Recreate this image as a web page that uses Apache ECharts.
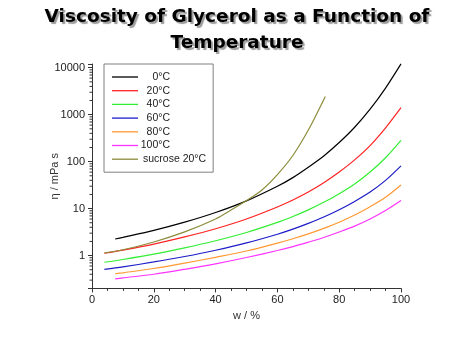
<!DOCTYPE html>
<html>
<head>
<meta charset="utf-8">
<script src="https://cdn.jsdelivr.net/npm/echarts@6/dist/echarts.min.js"></script>
<style>html,body{margin:0;padding:0;background:#fff}#c{width:474px;height:355px}</style>
</head>
<body>
<div id="c"></div>
<script>
// Glycerol mass fraction w / % for each curve
const wA = [4, 10, 20, 30, 40, 50, 60, 65, 70, 75, 80, 85, 90, 95, 100];
const wB = [7.5, 10, 20, 30, 40, 50, 60, 65, 70, 75, 80, 85, 90, 95, 100];
// viscosity / mPa s
const eta0   = [2.25, 2.44, 3.44, 5.14, 8.25, 14.6, 29.9, 45.7, 76, 132, 255, 540, 1310, 3690, 12070];
const eta20  = [1.12, 1.31, 1.76, 2.50, 3.72, 6.00, 10.8, 15.2, 22.5, 35.5, 60.1, 109, 219, 523, 1410];
const eta40  = [0.72, 0.826, 1.07, 1.46, 2.07, 3.10, 5.08, 6.80, 9.40, 13.6, 20.8, 33.5, 60.0, 121, 284];
const eta60  = [0.51, 0.575, 0.731, 0.956, 1.30, 1.86, 2.85, 3.66, 4.86, 6.61, 9.42, 14.2, 22.5, 39.9, 81.3];
const eta80  = [0.41, 0.43, 0.53, 0.69, 0.918, 1.25, 1.84, 2.28, 2.90, 3.80, 5.13, 7.28, 11.0, 17.5, 31.9];
const eta100 = [0.32, 0.335, 0.40, 0.51, 0.668, 0.910, 1.28, 1.55, 1.93, 2.43, 3.18, 4.24, 6.00, 9.08, 14.8];
const wSuc   = [4, 10, 20, 30, 40, 45, 50, 55, 60, 65, 70, 75.5];
const etaSuc = [1.14, 1.33, 1.95, 3.19, 6.0, 9.3, 14.8, 25, 53, 135, 470, 2450];

const names  = ['0°C', '20°C', '40°C', '60°C', '80°C', '100°C', 'sucrose 20°C'];
const colors = ['#000000', '#ff2222', '#33ee33', '#1c1cc8', '#ff9933', '#ff33ff', '#8c8c3c'];
const xTicks = [0, 20, 40, 60, 80, 100];
const yMajor = [1, 10, 100, 1000, 10000];
const yMinor = [0.3, 0.4, 0.5, 0.6, 0.7, 0.8, 0.9,
  2, 3, 4, 5, 6, 7, 8, 9, 20, 30, 40, 50, 60, 70, 80, 90,
  200, 300, 400, 500, 600, 700, 800, 900, 2000, 3000, 4000, 5000, 6000, 7000, 8000, 9000];

const zip = (xs, ys) => xs.map((x, i) => [x, ys[i]]);
const curveData = [
  zip(wB, eta0), zip(wA, eta20), zip(wA, eta40), zip(wA, eta60),
  zip(wB, eta80), zip(wB, eta100), zip(wSuc, etaSuc)
];

const chart = echarts.init(document.getElementById('c'), null, {renderer: 'canvas'});
const font = 'Liberation Sans, Arial, sans-serif';

const series = curveData.map((d, i) => ({
  name: names[i], type: 'line', data: d, symbol: 'none', showSymbol: false,
  smooth: 0.3,
  lineStyle: {color: colors[i], width: 1.2}, itemStyle: {color: colors[i]},
  clip: false, silent: true, z: 3
}));
series.push({
  type: 'custom', silent: true, clip: false, z: 4,
  data: yMinor.map(v => [0, v]),
  renderItem: (params, api) => {
    const p = api.coord([0, api.value(1)]);
    return {type: 'line', shape: {x1: p[0] - 2.5, y1: p[1], x2: p[0], y2: p[1]},
      style: {stroke: '#333', lineWidth: 1}};
  }
});

chart.setOption({
  animation: false,
  backgroundColor: '#fff',
  title: {
    text: 'Viscosity of Glycerol as a Function of\nTemperature',
    left: 'center', top: 0, padding: [4, 5],
    textStyle: {
      fontFamily: 'DejaVu Sans', fontWeight: 'bold', fontSize: 18.5, lineHeight: 26,
      color: '#000', textShadowColor: '#9a9a9a', textShadowOffsetX: 2, textShadowOffsetY: 2, textShadowBlur: 1
    }
  },
  legend: {
    data: names, orient: 'vertical', left: 104, top: 64,
    padding: [7, 7, 7, 8], icon: 'rect', itemWidth: 26, itemHeight: 1.3, itemGap: 1.7,
    borderColor: '#808080', borderWidth: 1, backgroundColor: '#fff',
    selectedMode: false,
    formatter: n => n.indexOf('sucrose') === 0 ? n : '{r|' + n + '}',
    textStyle: {fontFamily: font, fontSize: 10.5, lineHeight: 12, color: '#222',
      rich: {r: {width: 27, align: 'right', fontFamily: font, fontSize: 10.5, lineHeight: 12, color: '#222'}}}
  },
  grid: {left: 92, right: 73, top: 64, bottom: 66.6},
  xAxis: {
    type: 'value', min: 0, max: 100, interval: 20,
    name: 'w / %', nameLocation: 'middle', nameGap: 19,
    nameTextStyle: {fontFamily: font, fontSize: 11, color: '#333'},
    axisLine: {lineStyle: {color: '#333', width: 1}},
    axisTick: {show: true, length: 4, lineStyle: {color: '#333'}},
    minorTick: {show: true, splitNumber: 4, length: 2.5, lineStyle: {color: '#333'}},
    axisLabel: {fontFamily: font, fontSize: 11, color: '#222', margin: 6,
      formatter: v => xTicks.indexOf(v) >= 0 ? String(v) : ''},
    splitLine: {show: false}
  },
  yAxis: {
    type: 'log', logBase: 10, min: 0.2, max: 12000,
    name: 'η / mPa s', nameLocation: 'middle', nameGap: 32, nameRotate: 90,
    nameMoveOverlap: false,
    nameTextStyle: {fontFamily: font, fontSize: 11, color: '#333'},
    axisLine: {show: true, lineStyle: {color: '#333', width: 1}},
    axisTick: {show: true, length: 4, lineStyle: {color: '#333'}},
    axisLabel: {fontFamily: font, fontSize: 11, color: '#222', margin: 7,
      showMinLabel: true, showMaxLabel: true, hideOverlap: false,
      formatter: v => {
        const m = yMajor.find(t => Math.abs(t - v) / t < 1e-6);
        return m ? String(m) : '';
      }},
    splitLine: {show: false}
  },
  series: series
});
</script>
</body>
</html>
